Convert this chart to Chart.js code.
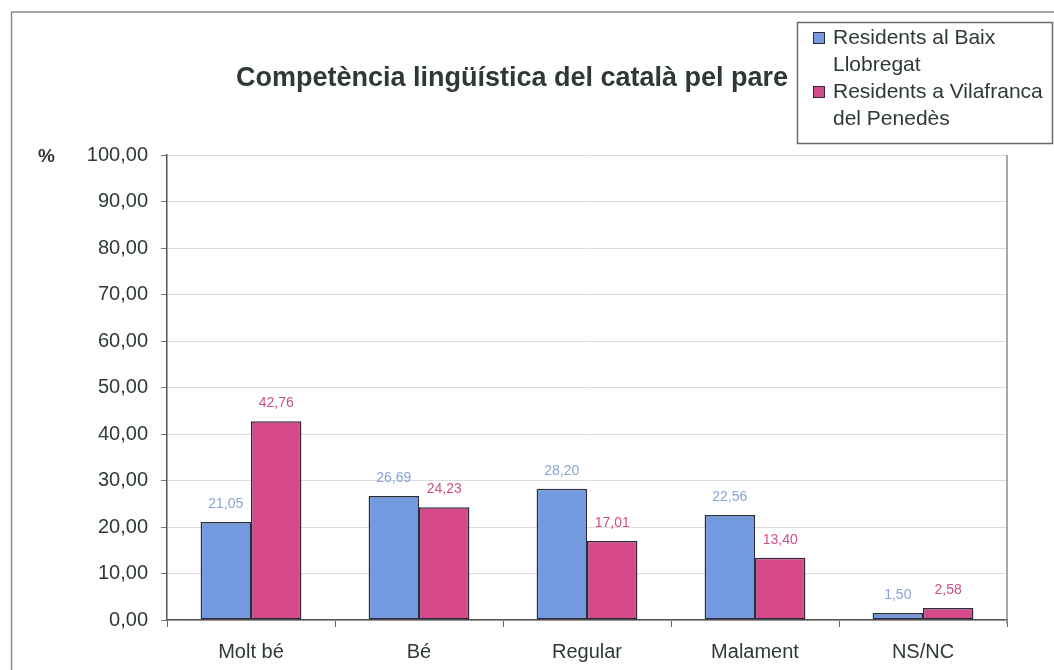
<!DOCTYPE html>
<html>
<head>
<meta charset="utf-8">
<script src="https://cdn.jsdelivr.net/npm/chart.js@4"></script>
<style>
  html, body { margin: 0; padding: 0; background: #fff; }
  #wrap { width: 1054px; height: 670px; position: relative; }
</style>
</head>
<body>
<div id="wrap"><canvas id="chart" width="1054" height="670"></canvas></div>
<script>
// Chart data
const categories = ["Molt bé", "Bé", "Regular", "Malament", "NS/NC"];
const baixLlobregat = [21.05, 26.69, 28.20, 22.56, 1.50];
const vilafranca = [42.76, 24.23, 17.01, 13.40, 2.58];
const seriesNames = [["Residents al Baix", "Llobregat"], ["Residents a Vilafranca", "del Penedès"]];
const chartTitle = "Competència lingüística del català pel pare";
const yUnit = "%";

const blueFill = "#7399df";
const pinkFill = "#d64a8c";
const blueText = "#8aa3d6";
const pinkText = "#cf4f87";
const textColor = "#2f3838";
const sans = "'Liberation Sans', Arial, sans-serif";
const narrow = "'Liberation Sans Narrow', 'Arial Narrow', 'Liberation Sans', sans-serif";

const fmt = (v) => v.toFixed(2).replace(".", ",");

// Draws the frame, title, legend, unit label and value labels
const decor = {
  id: "decor",
  afterDraw(chart) {
    const ctx = chart.ctx;
    const area = chart.chartArea;
    ctx.save();

    // outer border
    ctx.strokeStyle = "#8a8a8a";
    ctx.lineWidth = 1.5;
    ctx.beginPath();
    ctx.moveTo(11.5, 670);
    ctx.lineTo(11.5, 12);
    ctx.lineTo(1054, 12);
    ctx.stroke();

    // right edge of plot area
    ctx.beginPath();
    ctx.moveTo(area.right, area.top);
    ctx.lineTo(area.right, area.bottom + 4);
    ctx.stroke();

    // title
    ctx.fillStyle = textColor;
    ctx.font = "bold 27px " + sans;
    ctx.textAlign = "center";
    ctx.textBaseline = "middle";
    ctx.fillText(chartTitle, 512, 79);

    // unit
    ctx.font = "bold 19px " + sans;
    ctx.textAlign = "left";
    ctx.fillText(yUnit, 38, 157);

    // legend
    ctx.fillStyle = "#fff";
    ctx.fillRect(797, 22, 255, 121);
    ctx.strokeStyle = "#6a6a6a";
    ctx.lineWidth = 1.5;
    ctx.strokeRect(797.5, 22.5, 255, 121);
    const fills = [blueFill, pinkFill];
    ctx.font = "21px " + sans;
    ctx.textBaseline = "middle";
    let y = 38;
    seriesNames.forEach((lines, i) => {
      ctx.fillStyle = fills[i];
      ctx.fillRect(813, y - 6, 12, 12);
      ctx.strokeStyle = "#2b2b3b";
      ctx.lineWidth = 1;
      ctx.strokeRect(813.5, y - 5.5, 11, 11);
      ctx.fillStyle = textColor;
      lines.forEach((line) => {
        ctx.fillText(line, 833, y);
        y += 27;
      });
    });

    // value labels
    ctx.font = "14px " + narrow;
    ctx.textAlign = "center";
    ctx.textBaseline = "bottom";
    const labelColors = [blueText, pinkText];
    chart.data.datasets.forEach((ds, i) => {
      const meta = chart.getDatasetMeta(i);
      ctx.fillStyle = labelColors[i];
      meta.data.forEach((bar, j) => {
        ctx.fillText(fmt(ds.data[j]), bar.x, bar.y - 11);
      });
    });

    ctx.restore();
  },
};

const ctx = document.getElementById("chart").getContext("2d");

new Chart(ctx, {
  type: "bar",
  data: {
    labels: categories,
    datasets: [
      {
        label: seriesNames[0].join(" "),
        data: baixLlobregat,
        backgroundColor: blueFill,
        borderColor: "#2b2b3b",
        borderWidth: 1.5,
        borderSkipped: false,
      },
      {
        label: seriesNames[1].join(" "),
        data: vilafranca,
        backgroundColor: pinkFill,
        borderColor: "#2b2b3b",
        borderWidth: 1.5,
        borderSkipped: false,
      },
    ],
  },
  options: {
    responsive: false,
    animation: false,
    layout: {
      padding: { left: 0, top: 155, right: 47, bottom: 0 },
    },
    datasets: {
      bar: { categoryPercentage: 0.6, barPercentage: 1.0 },
    },
    plugins: {
      legend: { display: false },
      title: { display: false },
      tooltip: { enabled: false },
    },
    scales: {
      x: {
        afterFit: (scale) => { scale.height = 50; },
        grid: {
          offset: true,
          drawOnChartArea: false,
          tickLength: 7,
          tickColor: "#666",
        },
        border: { color: "#555", width: 1.5 },
        ticks: {
          color: textColor,
          font: { family: narrow, size: 20 },
          padding: 13,
        },
      },
      y: {
        min: 0,
        max: 100,
        afterFit: (scale) => { scale.width = 167; },
        grid: {
          color: "#dcdcdc",
          tickColor: "#777",
          tickLength: 6,
        },
        border: { color: "#555", width: 1.5 },
        ticks: {
          stepSize: 10,
          color: textColor,
          font: { family: sans, size: 20 },
          padding: 13,
          callback: (v) => fmt(v),
        },
      },
    },
  },
  plugins: [decor],
});
</script>
</body>
</html>
